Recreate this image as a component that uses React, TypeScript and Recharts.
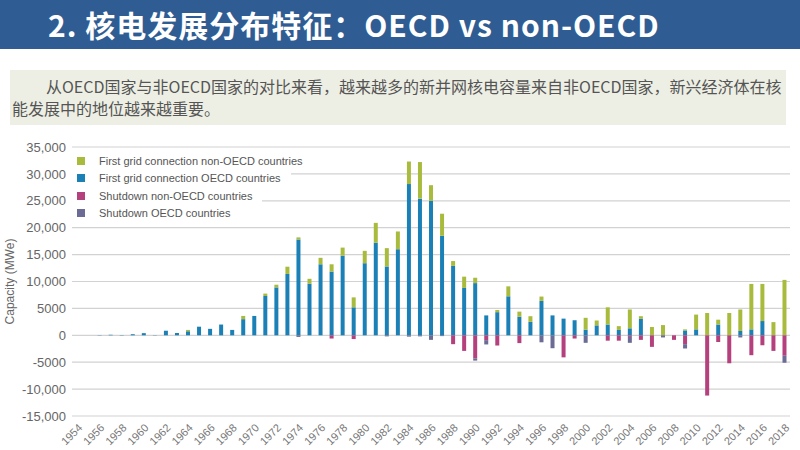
import { BarChart, Bar, XAxis, YAxis, CartesianGrid, Legend } from "recharts";

const YEARS = [
  "1954", "1955", "1956", "1957", "1958", "1959", "1960", "1961", "1962", "1963",
  "1964", "1965", "1966", "1967", "1968", "1969", "1970", "1971", "1972", "1973",
  "1974", "1975", "1976", "1977", "1978", "1979", "1980", "1981", "1982", "1983",
  "1984", "1985", "1986", "1987", "1988", "1989", "1990", "1991", "1992", "1993",
  "1994", "1995", "1996", "1997", "1998", "1999", "2000", "2001", "2002", "2003",
  "2004", "2005", "2006", "2007", "2008", "2009", "2010", "2011", "2012", "2013",
  "2014", "2015", "2016", "2017", "2018",
];

// first grid connection, OECD countries (MWe)
const OECD_NEW = [
  0, 0, 50, 100, 60, 200, 400, 50, 850, 430,
  750, 1600, 1200, 2000, 1000, 3000, 3600, 7300, 8900, 11400,
  17800, 9600, 13200, 11850, 14800, 5200, 13400, 17200, 12800, 16000,
  28100, 25400, 25000, 18500, 12900, 8800, 9700, 3700, 4300, 7250,
  3450, 2500, 6400, 3700, 3100, 2800, 1050, 1850, 2000, 1000,
  1300, 3050, 0, 0, 0, 900, 1100, 0, 2000, 0,
  800, 1100, 2650, 0, 0,
];

// first grid connection, non-OECD countries (MWe)
const NON_OECD_NEW = [
  5, 0, 0, 0, 0, 0, 0, 0, 0, 0,
  250, 0, 0, 0, 0, 600, 0, 450, 500, 1350,
  400, 900, 1200, 1350, 1500, 1850, 2300, 3700, 3400, 3300,
  4200, 6800, 2900, 4100, 900, 2100, 1000, 0, 400, 1850,
  950, 1050, 800, 0, 0, 0, 2200, 900, 3200, 700,
  3500, 500, 1550, 1900, 0, 200, 2750, 4150, 900, 4150,
  4000, 8450, 6900, 2450, 10300,
];

// shutdown, non-OECD countries (MWe)
const NON_OECD_SHUT = [
  0, 0, 0, 0, 0, 0, 0, 0, 0, 0,
  0, 0, 0, 0, 0, 0, 0, 0, 0, 0,
  0, 0, 0, -600, 0, -700, 0, 0, 0, 0,
  0, 0, 0, 0, -1650, -2900, -4300, -900, -1900, 0,
  -1450, 0, 0, 0, -4100, -600, 0, 0, -1000, -1000,
  -300, -850, -2150, 0, -850, -1650, 0, -11200, -1250, -5200,
  0, -3700, -1850, -2900, -3800,
];

// shutdown, OECD countries (MWe)
const OECD_SHUT = [
  0, 0, 0, 0, 0, 0, 0, 0, 0, 0,
  0, 0, 0, 0, 0, 0, 0, 0, 0, 0,
  -300, 0, 0, 0, 0, 0, 0, 0, -200, 0,
  -250, -200, -850, -150, 0, 0, -400, -800, 0, 0,
  0, 0, -1300, -2400, 0, 0, -1400, 0, 0, 0,
  -1100, 0, 0, -400, 0, -800, 0, 0, 0, 0,
  -400, 0, 0, 0, -1300,
];

const Y_TICKS = [-15000, -10000, -5000, 0, 5000, 10000, 15000, 20000, 25000, 30000, 35000];
const Y_TICK_LABELS = ["-15,000", "-10,000", "-5000", "0", "5000", "10,000", "15,000", "20,000", "25,000", "30,000", "35,000"];

// stacking order: nearest to zero first
const SERIES = [
  { key: "oecdNew", name: "First grid connection OECD countries", color: "#1b80b6" },
  { key: "nonOecdNew", name: "First grid connection non-OECD countries", color: "#a8bb3c" },
  { key: "nonOecdShut", name: "Shutdown non-OECD countries", color: "#b4407e" },
  { key: "oecdShut", name: "Shutdown OECD countries", color: "#6b6b95" },
];
const LEGEND_ORDER = ["nonOecdNew", "oecdNew", "nonOecdShut", "oecdShut"];

const data = YEARS.map((year, i) => ({
  year,
  oecdNew: OECD_NEW[i],
  nonOecdNew: NON_OECD_NEW[i],
  nonOecdShut: NON_OECD_SHUT[i],
  oecdShut: OECD_SHUT[i],
}));

const axisFont = "'Liberation Sans', Arial, sans-serif";

function renderLegend() {
  return (
    <div style={{ fontFamily: axisFont, fontSize: 11, color: "#555" }}>
      {LEGEND_ORDER.map((k) => {
        const s = SERIES.find((x) => x.key === k)!;
        return (
          <div
            key={k}
            style={{
              display: "flex",
              alignItems: "center",
              height: 17.5,
              width: "fit-content",
              background: "#fff",
              paddingLeft: 5,
              paddingRight: 10,
            }}
          >
            <span style={{ width: 8, height: 8, background: s.color, marginRight: 14, display: "inline-block" }} />
            <span>{s.name}</span>
          </div>
        );
      })}
    </div>
  );
}

export default function App() {
  return (
    <div style={{ position: "absolute", left: 0, top: 0, width: 800, height: 450, background: "#fff", overflow: "hidden" }}>
      <BarChart
        width={800}
        height={450}
        data={data}
        stackOffset="sign"
        barCategoryGap="32%"
        margin={{ top: 147, right: 10, bottom: 2, left: 0 }}
        style={{ position: "absolute", left: 0, top: 0 }}
      >
        <CartesianGrid vertical={false} stroke="#d2d2d2" strokeWidth={1.2} />
        <XAxis
          dataKey="year"
          interval={1}
          angle={-45}
          textAnchor="end"
          height={32}
          axisLine={false}
          tickLine={false}
          tickSize={0}
          tickMargin={7}
          tick={{ fontSize: 11, fill: "#777", fontFamily: axisFont }}
        />
        <YAxis
          width={72}
          domain={[-15000, 35000]}
          ticks={Y_TICKS}
          tickFormatter={(v: number) => Y_TICK_LABELS[Y_TICKS.indexOf(v)]}
          axisLine={false}
          tickLine={false}
          tickSize={0}
          tickMargin={6}
          tick={{ fontSize: 13, fill: "#666", fontFamily: axisFont }}
          label={{
            value: "Capacity (MWe)",
            angle: -90,
            position: "insideLeft",
            offset: 10,
            style: { textAnchor: "middle", fill: "#666", fontSize: 12, fontFamily: axisFont },
          }}
        />
        <Legend
          layout="vertical"
          align="center"
          verticalAlign="middle"
          content={renderLegend}
          wrapperStyle={{ left: 72, top: 152, width: "auto" }}
        />
        {SERIES.map((s) => (
          <Bar key={s.key} dataKey={s.key} name={s.name} stackId="a" fill={s.color} isAnimationActive={false} />
        ))}
      </BarChart>

      <div
        style={{
          position: "absolute",
          left: 0,
          top: 0,
          width: 800,
          height: 49,
          background: "#2f5d93",
          color: "#fff",
          fontFamily: "'Noto Sans CJK SC', sans-serif",
          fontWeight: 700,
          fontSize: 30,
          letterSpacing: 1,
          lineHeight: "49px",
          paddingLeft: 48,
          boxSizing: "border-box",
          whiteSpace: "nowrap",
        }}
      >
        2. 核电发展分布特征：OECD vs non-OECD
      </div>

      <div
        style={{
          position: "absolute",
          left: 10,
          top: 70,
          width: 776,
          height: 55,
          background: "#edefe4",
          color: "#555",
          fontFamily: "'Noto Sans CJK SC', sans-serif",
          fontSize: 16,
          lineHeight: "22px",
          padding: "5px 2px 0 2px",
          boxSizing: "border-box",
        }}
      >
        <div style={{ paddingLeft: 34, whiteSpace: "nowrap" }}>
          从OECD国家与非OECD国家的对比来看，越来越多的新并网核电容量来自非OECD国家，新兴经济体在核
        </div>
        <div>能发展中的地位越来越重要。</div>
      </div>
    </div>
  );
}
